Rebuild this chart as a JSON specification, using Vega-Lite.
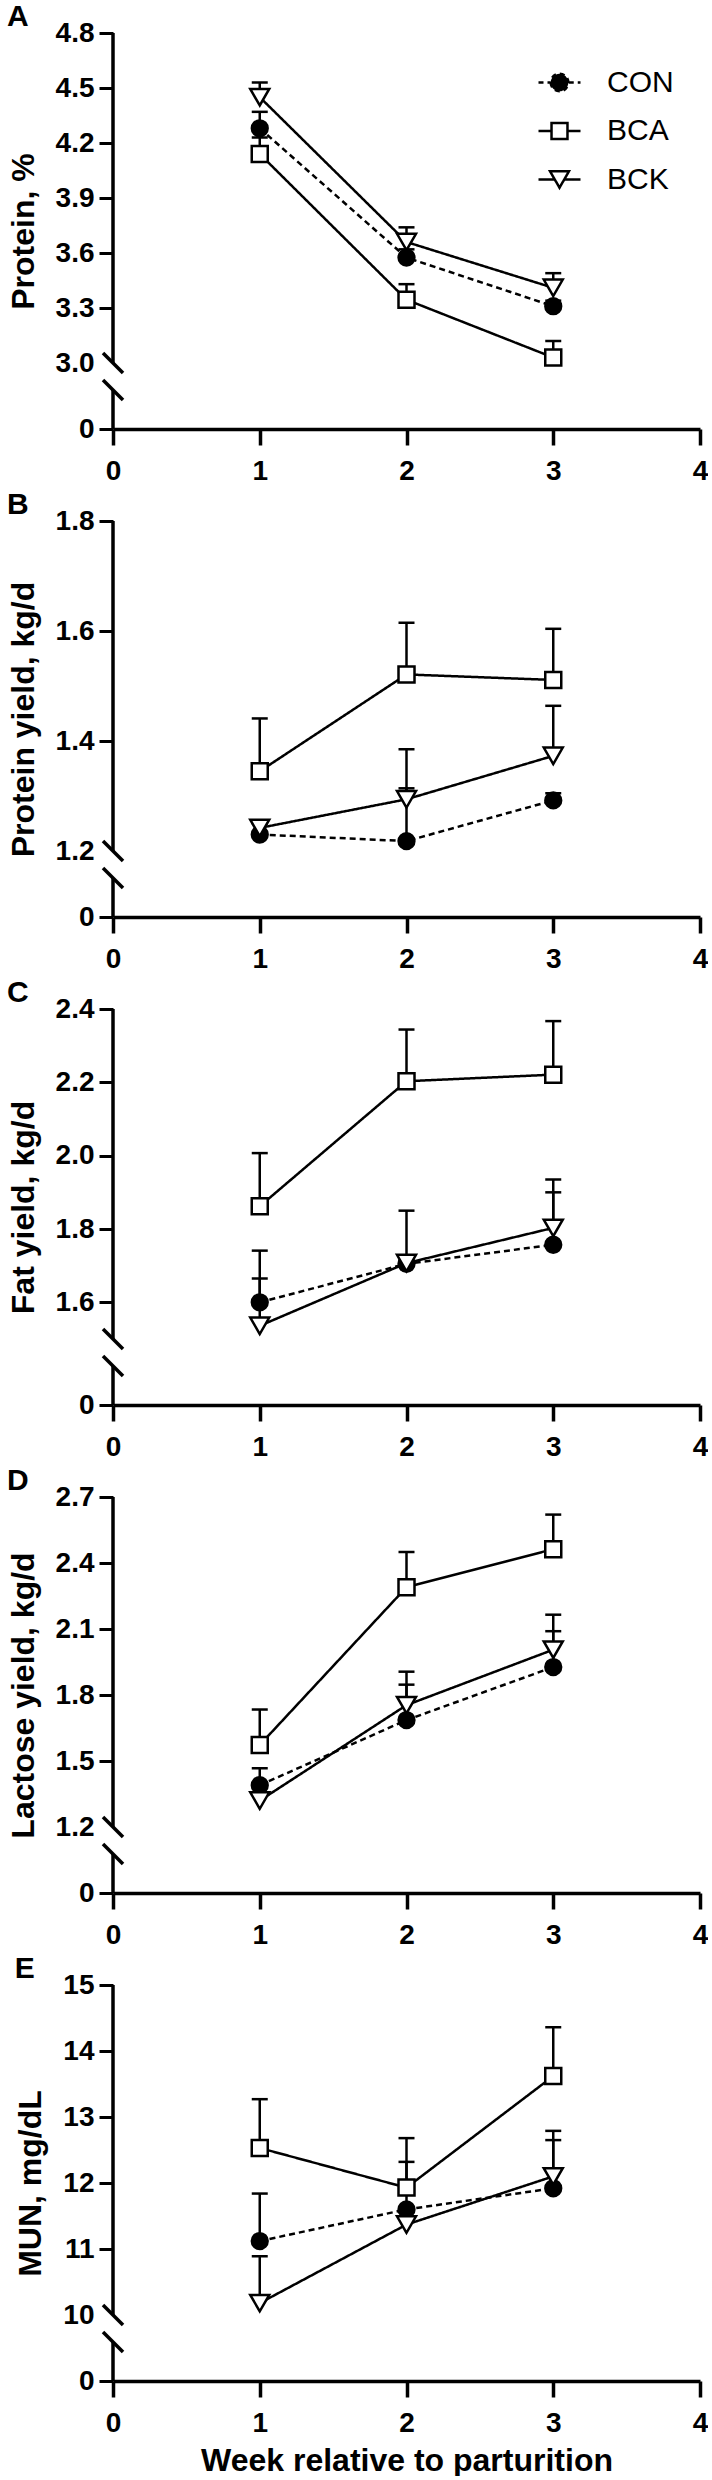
{
  "$schema": "https://vega.github.io/schema/vega-lite/v6.json",
  "padding": {"left": 7, "top": 2, "right": 0, "bottom": 0},
  "spacing": 5,
  "datasets": {
    "A": [
      {"week": 1, "group": "CON", "mean": 4.28, "upper": 4.37},
      {"week": 2, "group": "CON", "mean": 3.575, "upper": 3.62},
      {"week": 3, "group": "CON", "mean": 3.31, "upper": 3.34},
      {"week": 1, "group": "BCA", "mean": 4.14, "upper": 4.23},
      {"week": 2, "group": "BCA", "mean": 3.345, "upper": 3.43},
      {"week": 3, "group": "BCA", "mean": 3.03, "upper": 3.12},
      {"week": 1, "group": "BCK", "mean": 4.45, "upper": 4.53},
      {"week": 2, "group": "BCK", "mean": 3.66, "upper": 3.74},
      {"week": 3, "group": "BCK", "mean": 3.41, "upper": 3.49}
    ],
    "B": [
      {"week": 1, "group": "CON", "mean": 1.23, "upper": 1.25},
      {"week": 2, "group": "CON", "mean": 1.218, "upper": 1.314},
      {"week": 3, "group": "CON", "mean": 1.292, "upper": 1.305},
      {"week": 1, "group": "BCA", "mean": 1.345, "upper": 1.441},
      {"week": 2, "group": "BCA", "mean": 1.521, "upper": 1.615},
      {"week": 3, "group": "BCA", "mean": 1.511, "upper": 1.604},
      {"week": 1, "group": "BCK", "mean": 1.242, "upper": 1.255},
      {"week": 2, "group": "BCK", "mean": 1.294, "upper": 1.385},
      {"week": 3, "group": "BCK", "mean": 1.373, "upper": 1.464}
    ],
    "C": [
      {"week": 1, "group": "CON", "mean": 1.6, "upper": 1.741},
      {"week": 2, "group": "CON", "mean": 1.705, "upper": 1.72},
      {"week": 3, "group": "CON", "mean": 1.757, "upper": 1.9},
      {"week": 1, "group": "BCA", "mean": 1.862, "upper": 2.007},
      {"week": 2, "group": "BCA", "mean": 2.203, "upper": 2.344},
      {"week": 3, "group": "BCA", "mean": 2.221, "upper": 2.367},
      {"week": 1, "group": "BCK", "mean": 1.536, "upper": 1.665},
      {"week": 2, "group": "BCK", "mean": 1.707, "upper": 1.85},
      {"week": 3, "group": "BCK", "mean": 1.803, "upper": 1.935}
    ],
    "D": [
      {"week": 1, "group": "CON", "mean": 1.39, "upper": 1.467},
      {"week": 2, "group": "CON", "mean": 1.686, "upper": 1.847},
      {"week": 3, "group": "CON", "mean": 1.927, "upper": 2.09},
      {"week": 1, "group": "BCA", "mean": 1.573, "upper": 1.734},
      {"week": 2, "group": "BCA", "mean": 2.29, "upper": 2.45},
      {"week": 3, "group": "BCA", "mean": 2.463, "upper": 2.62},
      {"week": 1, "group": "BCK", "mean": 1.32, "upper": 1.35},
      {"week": 2, "group": "BCK", "mean": 1.754, "upper": 1.906},
      {"week": 3, "group": "BCK", "mean": 2.006, "upper": 2.165}
    ],
    "E": [
      {"week": 1, "group": "CON", "mean": 11.12, "upper": 11.84},
      {"week": 2, "group": "CON", "mean": 11.6, "upper": 12.32},
      {"week": 3, "group": "CON", "mean": 11.92, "upper": 12.65},
      {"week": 1, "group": "BCA", "mean": 12.53, "upper": 13.27},
      {"week": 2, "group": "BCA", "mean": 11.93, "upper": 12.68},
      {"week": 3, "group": "BCA", "mean": 13.62, "upper": 14.36},
      {"week": 1, "group": "BCK", "mean": 10.18, "upper": 10.89},
      {"week": 2, "group": "BCK", "mean": 11.37, "upper": 11.47},
      {"week": 3, "group": "BCK", "mean": 12.1, "upper": 12.79}
    ]
  },
  "vconcat": [
    {
      "title": {"text": "A"},
      "width": 587,
      "height": 396,
      "data": {"name": "A"},
      "encoding": {
        "x": {"field": "week", "type": "quantitative", "scale": {"domain": [0, 4], "nice": false, "zero": false}, "axis": {"values": [0, 1, 2, 3, 4], "title": null, "domain": true, "ticks": true, "domainColor": "black", "domainWidth": 3.5, "domainOpacity": 1, "tickColor": "black", "tickWidth": 3.5, "tickOpacity": 1, "zindex": 1}},
        "y": {
          "field": "mean", "type": "quantitative",
          "scale": {"domain": [0, 3, 4.8], "range": [396, 330, 0], "nice": false, "zero": false},
          "axis": {"title": "Protein, %", "values": [0, 3, 3.3, 3.6, 3.9, 4.2, 4.5, 4.8], "labelExpr": "datum.value === 0 ? '0' : format(datum.value, '.1f')", "tickOpacity": {"condition": {"test": "datum.value === 3", "value": 0}, "value": 1}}
        }
      },
      "layer": [
        {"transform": [{"filter": "datum.week === 1 && datum.group === 'CON'"}], "mark": {"type": "rule", "color": "black", "strokeWidth": 3.5}, "encoding": {"x": {"datum": 0}, "y": {"datum": 3}, "y2": {"datum": 4.8}}},
        {"transform": [{"filter": "datum.week === 1 && datum.group === 'CON'"}], "mark": {"type": "rule", "color": "black", "strokeWidth": 3.5}, "encoding": {"x": {"datum": 0}, "y": {"datum": 0}, "y2": {"datum": 1.773}}},
        {"mark": {"type": "line", "color": "black", "strokeWidth": 2.5}, "encoding": {"detail": {"field": "group"}, "strokeDash": {"condition": {"test": "datum.group === 'CON'", "value": [6, 4]}, "value": [1, 0]}}},
        {"mark": {"type": "rule", "color": "black", "strokeWidth": 2.5}, "encoding": {"y2": {"field": "upper"}}},
        {"mark": {"type": "tick", "orient": "horizontal", "color": "black", "size": 16, "thickness": 2.5, "opacity": 1}, "encoding": {"y": {"field": "upper", "type": "quantitative"}}},
        {"mark": {"type": "point", "filled": true, "stroke": "black", "strokeWidth": 2.5, "opacity": 1}, "encoding": {
          "shape": {"condition": [{"test": "datum.group === 'CON'", "value": "circle"}, {"test": "datum.group === 'BCA'", "value": "square"}], "value": "triangle-down"},
          "size": {"condition": [{"test": "datum.group === 'CON'", "value": 250}, {"test": "datum.group === 'BCA'", "value": 256}], "value": 361},
          "fill": {"condition": {"test": "datum.group === 'CON'", "value": "black"}, "value": "white"}
        }},
        {"transform": [{"filter": "datum.week === 1 && datum.group === 'CON'"}], "mark": {"type": "point", "shape": "M-1,-1L1,1", "size": 400, "filled": false, "color": "black", "strokeWidth": 3.5, "opacity": 1}, "encoding": {"x": {"datum": 0}, "y": {"datum": 3}}},
        {"transform": [{"filter": "datum.week === 1 && datum.group === 'CON'"}], "mark": {"type": "point", "shape": "M-1,-1L1,1", "size": 400, "filled": false, "color": "black", "strokeWidth": 3.5, "opacity": 1}, "encoding": {"x": {"datum": 0}, "y": {"datum": 1.773}}},
        {
          "transform": [{"filter": "false"}],
          "mark": {"type": "point", "filled": false, "strokeWidth": 2.5, "opacity": 1},
          "encoding": {
            "shape": {"field": "group", "type": "nominal",
              "scale": {"domain": ["CON", "BCA", "BCK"], "range": [
                "M-1,0H-0.44M0.44,0H1M-0.42,0A0.42,0.42 0 1,0 0.42,0A0.42,0.42 0 1,0 -0.42,0Z",
                "M-1,0H-0.4M0.4,0H1M-0.38,-0.38H0.38V0.38H-0.38Z",
                "M-1,0H-0.24M0.24,0H1M0,0.39L-0.45,-0.39L0.45,-0.39Z"]},
              "legend": {"orient": "none", "legendX": 424, "legendY": 27, "title": null, "labelFontSize": 30, "labelFont": "Liberation Sans", "labelFontWeight": "normal", "labelColor": "black", "labelOffset": 25, "rowPadding": 10.5, "symbolSize": 1764, "symbolStrokeWidth": 2.5}},
            "fill": {"field": "group", "type": "nominal", "scale": {"domain": ["CON", "BCA", "BCK"], "range": ["black", "white", "white"]},
              "legend": {"orient": "none", "legendX": 424, "legendY": 27, "title": null, "labelFontSize": 30, "labelFont": "Liberation Sans", "labelFontWeight": "normal", "labelColor": "black", "labelOffset": 25, "rowPadding": 10.5, "symbolSize": 1764, "symbolStrokeWidth": 2.5}},
            "stroke": {"field": "group", "type": "nominal", "scale": {"domain": ["CON", "BCA", "BCK"], "range": ["black", "black", "black"]},
              "legend": {"orient": "none", "legendX": 424, "legendY": 27, "title": null, "labelFontSize": 30, "labelFont": "Liberation Sans", "labelFontWeight": "normal", "labelColor": "black", "labelOffset": 25, "rowPadding": 10.5, "symbolSize": 1764, "symbolStrokeWidth": 2.5}},
            "strokeDash": {"field": "group", "type": "nominal", "scale": {"domain": ["CON", "BCA", "BCK"], "range": [[5, 4], [1, 0], [1, 0]]},
              "legend": {"orient": "none", "legendX": 424, "legendY": 27, "title": null, "labelFontSize": 30, "labelFont": "Liberation Sans", "labelFontWeight": "normal", "labelColor": "black", "labelOffset": 25, "rowPadding": 10.5, "symbolSize": 1764, "symbolStrokeWidth": 2.5}}
          }
        }
      ]
    },
    {
      "title": {"text": "B"},
      "width": 587,
      "height": 396,
      "data": {"name": "B"},
      "encoding": {
        "x": {"field": "week", "type": "quantitative", "scale": {"domain": [0, 4], "nice": false, "zero": false}, "axis": {"values": [0, 1, 2, 3, 4], "title": null, "domain": true, "ticks": true, "domainColor": "black", "domainWidth": 3.5, "domainOpacity": 1, "tickColor": "black", "tickWidth": 3.5, "tickOpacity": 1, "zindex": 1}},
        "y": {
          "field": "mean", "type": "quantitative",
          "scale": {"domain": [0, 1.2, 1.8], "range": [396, 330, 0], "nice": false, "zero": false},
          "axis": {"title": "Protein yield, kg/d", "values": [0, 1.2, 1.4, 1.6, 1.8], "labelExpr": "datum.value === 0 ? '0' : format(datum.value, '.1f')", "tickOpacity": {"condition": {"test": "datum.value === 1.2", "value": 0}, "value": 1}}
        }
      },
      "layer": [
        {"transform": [{"filter": "datum.week === 1 && datum.group === 'CON'"}], "mark": {"type": "rule", "color": "black", "strokeWidth": 3.5}, "encoding": {"x": {"datum": 0}, "y": {"datum": 1.2}, "y2": {"datum": 1.8}}},
        {"transform": [{"filter": "datum.week === 1 && datum.group === 'CON'"}], "mark": {"type": "rule", "color": "black", "strokeWidth": 3.5}, "encoding": {"x": {"datum": 0}, "y": {"datum": 0}, "y2": {"datum": 0.709}}},
        {"mark": {"type": "line", "color": "black", "strokeWidth": 2.5}, "encoding": {"detail": {"field": "group"}, "strokeDash": {"condition": {"test": "datum.group === 'CON'", "value": [6, 4]}, "value": [1, 0]}}},
        {"mark": {"type": "rule", "color": "black", "strokeWidth": 2.5}, "encoding": {"y2": {"field": "upper"}}},
        {"mark": {"type": "tick", "orient": "horizontal", "color": "black", "size": 16, "thickness": 2.5, "opacity": 1}, "encoding": {"y": {"field": "upper", "type": "quantitative"}}},
        {"mark": {"type": "point", "filled": true, "stroke": "black", "strokeWidth": 2.5, "opacity": 1}, "encoding": {
          "shape": {"condition": [{"test": "datum.group === 'CON'", "value": "circle"}, {"test": "datum.group === 'BCA'", "value": "square"}], "value": "triangle-down"},
          "size": {"condition": [{"test": "datum.group === 'CON'", "value": 250}, {"test": "datum.group === 'BCA'", "value": 256}], "value": 361},
          "fill": {"condition": {"test": "datum.group === 'CON'", "value": "black"}, "value": "white"}
        }},
        {"transform": [{"filter": "datum.week === 1 && datum.group === 'CON'"}], "mark": {"type": "point", "shape": "M-1,-1L1,1", "size": 400, "filled": false, "color": "black", "strokeWidth": 3.5, "opacity": 1}, "encoding": {"x": {"datum": 0}, "y": {"datum": 1.2}}},
        {"transform": [{"filter": "datum.week === 1 && datum.group === 'CON'"}], "mark": {"type": "point", "shape": "M-1,-1L1,1", "size": 400, "filled": false, "color": "black", "strokeWidth": 3.5, "opacity": 1}, "encoding": {"x": {"datum": 0}, "y": {"datum": 0.709}}}
      ]
    },
    {
      "title": {"text": "C"},
      "width": 587,
      "height": 396,
      "data": {"name": "C"},
      "encoding": {
        "x": {"field": "week", "type": "quantitative", "scale": {"domain": [0, 4], "nice": false, "zero": false}, "axis": {"values": [0, 1, 2, 3, 4], "title": null, "domain": true, "ticks": true, "domainColor": "black", "domainWidth": 3.5, "domainOpacity": 1, "tickColor": "black", "tickWidth": 3.5, "tickOpacity": 1, "zindex": 1}},
        "y": {
          "field": "mean", "type": "quantitative",
          "scale": {"domain": [0, 1.5, 2.4], "range": [396, 330, 0], "nice": false, "zero": false},
          "axis": {"title": "Fat yield, kg/d", "values": [0, 1.6, 1.8, 2.0, 2.2, 2.4], "labelExpr": "datum.value === 0 ? '0' : format(datum.value, '.1f')"}
        }
      },
      "layer": [
        {"transform": [{"filter": "datum.week === 1 && datum.group === 'CON'"}], "mark": {"type": "rule", "color": "black", "strokeWidth": 3.5}, "encoding": {"x": {"datum": 0}, "y": {"datum": 1.5}, "y2": {"datum": 2.4}}},
        {"transform": [{"filter": "datum.week === 1 && datum.group === 'CON'"}], "mark": {"type": "rule", "color": "black", "strokeWidth": 3.5}, "encoding": {"x": {"datum": 0}, "y": {"datum": 0}, "y2": {"datum": 0.886}}},
        {"mark": {"type": "line", "color": "black", "strokeWidth": 2.5}, "encoding": {"detail": {"field": "group"}, "strokeDash": {"condition": {"test": "datum.group === 'CON'", "value": [6, 4]}, "value": [1, 0]}}},
        {"mark": {"type": "rule", "color": "black", "strokeWidth": 2.5}, "encoding": {"y2": {"field": "upper"}}},
        {"mark": {"type": "tick", "orient": "horizontal", "color": "black", "size": 16, "thickness": 2.5, "opacity": 1}, "encoding": {"y": {"field": "upper", "type": "quantitative"}}},
        {"mark": {"type": "point", "filled": true, "stroke": "black", "strokeWidth": 2.5, "opacity": 1}, "encoding": {
          "shape": {"condition": [{"test": "datum.group === 'CON'", "value": "circle"}, {"test": "datum.group === 'BCA'", "value": "square"}], "value": "triangle-down"},
          "size": {"condition": [{"test": "datum.group === 'CON'", "value": 250}, {"test": "datum.group === 'BCA'", "value": 256}], "value": 361},
          "fill": {"condition": {"test": "datum.group === 'CON'", "value": "black"}, "value": "white"}
        }},
        {"transform": [{"filter": "datum.week === 1 && datum.group === 'CON'"}], "mark": {"type": "point", "shape": "M-1,-1L1,1", "size": 400, "filled": false, "color": "black", "strokeWidth": 3.5, "opacity": 1}, "encoding": {"x": {"datum": 0}, "y": {"datum": 1.5}}},
        {"transform": [{"filter": "datum.week === 1 && datum.group === 'CON'"}], "mark": {"type": "point", "shape": "M-1,-1L1,1", "size": 400, "filled": false, "color": "black", "strokeWidth": 3.5, "opacity": 1}, "encoding": {"x": {"datum": 0}, "y": {"datum": 0.886}}}
      ]
    },
    {
      "title": {"text": "D"},
      "width": 587,
      "height": 396,
      "data": {"name": "D"},
      "encoding": {
        "x": {"field": "week", "type": "quantitative", "scale": {"domain": [0, 4], "nice": false, "zero": false}, "axis": {"values": [0, 1, 2, 3, 4], "title": null, "domain": true, "ticks": true, "domainColor": "black", "domainWidth": 3.5, "domainOpacity": 1, "tickColor": "black", "tickWidth": 3.5, "tickOpacity": 1, "zindex": 1}},
        "y": {
          "field": "mean", "type": "quantitative",
          "scale": {"domain": [0, 1.2, 2.7], "range": [396, 330, 0], "nice": false, "zero": false},
          "axis": {"title": "Lactose yield, kg/d", "values": [0, 1.2, 1.5, 1.8, 2.1, 2.4, 2.7], "labelExpr": "datum.value === 0 ? '0' : format(datum.value, '.1f')", "tickOpacity": {"condition": {"test": "datum.value === 1.2", "value": 0}, "value": 1}}
        }
      },
      "layer": [
        {"transform": [{"filter": "datum.week === 1 && datum.group === 'CON'"}], "mark": {"type": "rule", "color": "black", "strokeWidth": 3.5}, "encoding": {"x": {"datum": 0}, "y": {"datum": 1.2}, "y2": {"datum": 2.7}}},
        {"transform": [{"filter": "datum.week === 1 && datum.group === 'CON'"}], "mark": {"type": "rule", "color": "black", "strokeWidth": 3.5}, "encoding": {"x": {"datum": 0}, "y": {"datum": 0}, "y2": {"datum": 0.709}}},
        {"mark": {"type": "line", "color": "black", "strokeWidth": 2.5}, "encoding": {"detail": {"field": "group"}, "strokeDash": {"condition": {"test": "datum.group === 'CON'", "value": [6, 4]}, "value": [1, 0]}}},
        {"mark": {"type": "rule", "color": "black", "strokeWidth": 2.5}, "encoding": {"y2": {"field": "upper"}}},
        {"mark": {"type": "tick", "orient": "horizontal", "color": "black", "size": 16, "thickness": 2.5, "opacity": 1}, "encoding": {"y": {"field": "upper", "type": "quantitative"}}},
        {"mark": {"type": "point", "filled": true, "stroke": "black", "strokeWidth": 2.5, "opacity": 1}, "encoding": {
          "shape": {"condition": [{"test": "datum.group === 'CON'", "value": "circle"}, {"test": "datum.group === 'BCA'", "value": "square"}], "value": "triangle-down"},
          "size": {"condition": [{"test": "datum.group === 'CON'", "value": 250}, {"test": "datum.group === 'BCA'", "value": 256}], "value": 361},
          "fill": {"condition": {"test": "datum.group === 'CON'", "value": "black"}, "value": "white"}
        }},
        {"transform": [{"filter": "datum.week === 1 && datum.group === 'CON'"}], "mark": {"type": "point", "shape": "M-1,-1L1,1", "size": 400, "filled": false, "color": "black", "strokeWidth": 3.5, "opacity": 1}, "encoding": {"x": {"datum": 0}, "y": {"datum": 1.2}}},
        {"transform": [{"filter": "datum.week === 1 && datum.group === 'CON'"}], "mark": {"type": "point", "shape": "M-1,-1L1,1", "size": 400, "filled": false, "color": "black", "strokeWidth": 3.5, "opacity": 1}, "encoding": {"x": {"datum": 0}, "y": {"datum": 0.709}}}
      ]
    },
    {
      "title": {"text": "E"},
      "width": 587,
      "height": 396,
      "data": {"name": "E"},
      "encoding": {
        "x": {"field": "week", "type": "quantitative", "scale": {"domain": [0, 4], "nice": false, "zero": false}, "axis": {"values": [0, 1, 2, 3, 4], "title": "Week relative to parturition", "domain": true, "ticks": true, "domainColor": "black", "domainWidth": 3.5, "domainOpacity": 1, "tickColor": "black", "tickWidth": 3.5, "tickOpacity": 1, "zindex": 1}},
        "y": {
          "field": "mean", "type": "quantitative",
          "scale": {"domain": [0, 10, 15], "range": [396, 330, 0], "nice": false, "zero": false},
          "axis": {"title": "MUN, mg/dL", "values": [0, 10, 11, 12, 13, 14, 15], "tickOpacity": {"condition": {"test": "datum.value === 10", "value": 0}, "value": 1}}
        }
      },
      "layer": [
        {"transform": [{"filter": "datum.week === 1 && datum.group === 'CON'"}], "mark": {"type": "rule", "color": "black", "strokeWidth": 3.5}, "encoding": {"x": {"datum": 0}, "y": {"datum": 10}, "y2": {"datum": 15}}},
        {"transform": [{"filter": "datum.week === 1 && datum.group === 'CON'"}], "mark": {"type": "rule", "color": "black", "strokeWidth": 3.5}, "encoding": {"x": {"datum": 0}, "y": {"datum": 0}, "y2": {"datum": 5.909}}},
        {"mark": {"type": "line", "color": "black", "strokeWidth": 2.5}, "encoding": {"detail": {"field": "group"}, "strokeDash": {"condition": {"test": "datum.group === 'CON'", "value": [6, 4]}, "value": [1, 0]}}},
        {"mark": {"type": "rule", "color": "black", "strokeWidth": 2.5}, "encoding": {"y2": {"field": "upper"}}},
        {"mark": {"type": "tick", "orient": "horizontal", "color": "black", "size": 16, "thickness": 2.5, "opacity": 1}, "encoding": {"y": {"field": "upper", "type": "quantitative"}}},
        {"mark": {"type": "point", "filled": true, "stroke": "black", "strokeWidth": 2.5, "opacity": 1}, "encoding": {
          "shape": {"condition": [{"test": "datum.group === 'CON'", "value": "circle"}, {"test": "datum.group === 'BCA'", "value": "square"}], "value": "triangle-down"},
          "size": {"condition": [{"test": "datum.group === 'CON'", "value": 250}, {"test": "datum.group === 'BCA'", "value": 256}], "value": 361},
          "fill": {"condition": {"test": "datum.group === 'CON'", "value": "black"}, "value": "white"}
        }},
        {"transform": [{"filter": "datum.week === 1 && datum.group === 'CON'"}], "mark": {"type": "point", "shape": "M-1,-1L1,1", "size": 400, "filled": false, "color": "black", "strokeWidth": 3.5, "opacity": 1}, "encoding": {"x": {"datum": 0}, "y": {"datum": 10}}},
        {"transform": [{"filter": "datum.week === 1 && datum.group === 'CON'"}], "mark": {"type": "point", "shape": "M-1,-1L1,1", "size": 400, "filled": false, "color": "black", "strokeWidth": 3.5, "opacity": 1}, "encoding": {"x": {"datum": 0}, "y": {"datum": 5.909}}}
      ]
    }
  ],
  "config": {
    "view": {"stroke": null},
    "font": "Liberation Sans",
    "axis": {"grid": false, "domainColor": "black", "domainWidth": 3.5, "tickColor": "black", "tickWidth": 3.5, "labelColor": "black", "labelFont": "Liberation Sans", "labelFontSize": 28, "labelFontWeight": "bold", "labelFlush": false, "labelOverlap": false, "titleColor": "black", "titleFont": "Liberation Sans", "titleFontSize": 32, "titleFontWeight": "bold"},
    "axisX": {"tickSize": 16, "labelPadding": 12, "titlePadding": 8},
    "axisY": {"domain": false, "tickSize": 14, "tickWidth": 3, "labelPadding": 5, "titlePadding": 15},
    "title": {"font": "Liberation Sans", "fontSize": 30, "fontWeight": "bold", "color": "black", "anchor": "start", "frame": "bounds", "offset": -13, "dx": 0}
  }
}
